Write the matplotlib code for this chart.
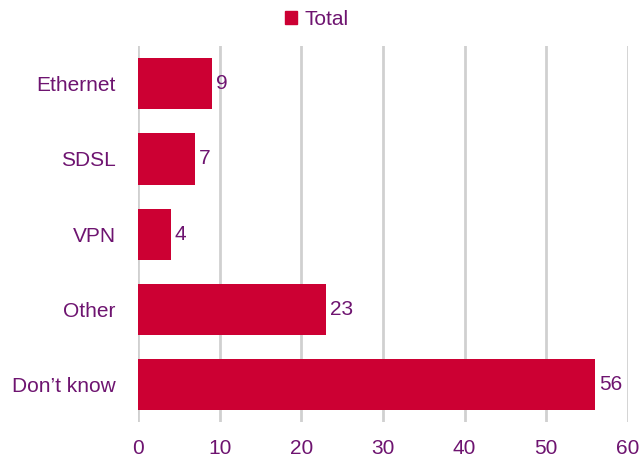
import matplotlib
matplotlib.use("Agg")
import matplotlib.pyplot as plt
from matplotlib.patches import Patch

plt.rcParams["font.family"] = ["Liberation Sans", "DejaVu Sans"]
plt.rcParams["font.size"] = 15

categories = ["Ethernet", "SDSL", "VPN", "Other", "Don\u2019t know"]
totals = [9, 7, 4, 23, 56]
xticks = [0, 10, 20, 30, 40, 50, 60]

bar_color = "#CC0033"
text_color = "#6E1470"

fig = plt.figure(figsize=(6.42, 4.66), dpi=100)
ax = fig.add_axes([0.215, 0.094, 0.763, 0.807])

ypos = list(range(len(categories)))
bars = ax.barh(ypos, totals, height=0.68, color=bar_color, zorder=3)
for y, v in zip(ypos, totals):
    ax.text(v + 0.5, y, str(v), va="center", ha="left", color=text_color, fontsize=15)

ax.set_yticks(ypos)
ax.set_yticklabels(categories, color=text_color)
ax.set_ylim(len(categories) - 0.5, -0.5)
ax.set_xlim(0, 60)
ax.set_xticks(xticks)
ax.set_xticklabels([str(t) for t in xticks], color=text_color)
ax.tick_params(axis="both", length=0)
ax.tick_params(axis="y", pad=16)
ax.tick_params(axis="x", pad=12)
ax.grid(axis="x", color="#D0D0D0", linewidth=2, zorder=0)
for s in ax.spines.values():
    s.set_visible(False)

handle = Patch(color=bar_color)
fig.legend([handle], ["Total"], loc="center", bbox_to_anchor=(0.493, 0.958),
           frameon=False, handlelength=0.6, handleheight=0.6, handletextpad=0.35,
           labelcolor=text_color, fontsize=15)

fig.savefig("out.png", dpi=100)
